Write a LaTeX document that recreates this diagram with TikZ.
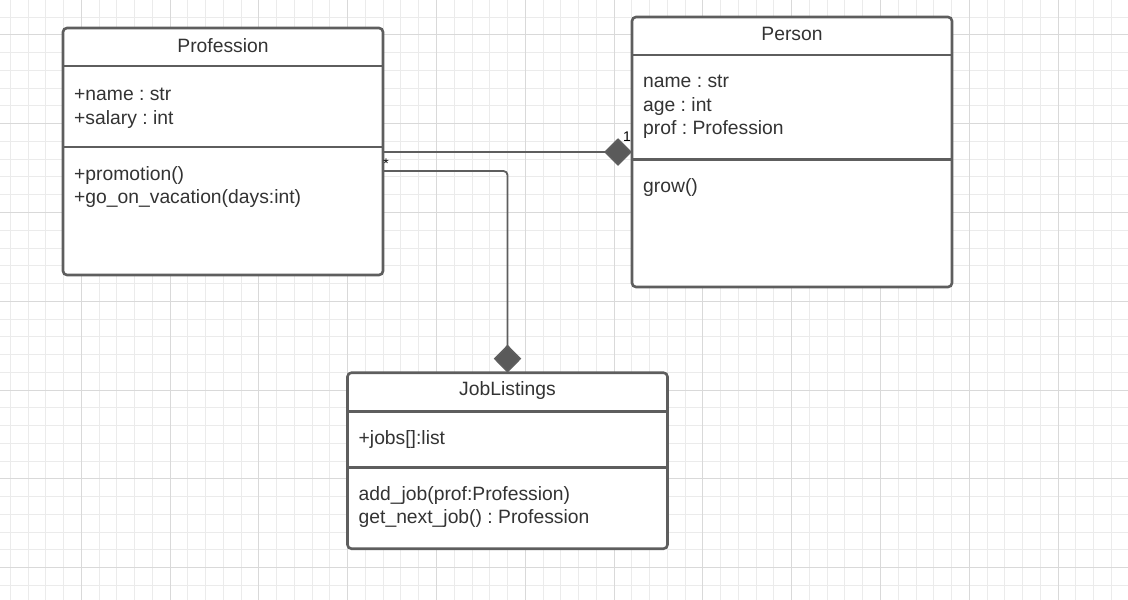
\documentclass[tikz,border=0pt]{standalone}
\usepackage{fontspec}
\setmainfont{Liberation Sans}
\usetikzlibrary{arrows.meta,positioning}
\definecolor{GridMinor}{HTML}{EBEBEB}
\definecolor{GridMajor}{HTML}{D9D9D9}
\definecolor{UmlLine}{HTML}{5E5E5E}
\definecolor{UmlText}{HTML}{333333}
\definecolor{UmlDiamond}{HTML}{5A5A5A}
\frenchspacing

\begin{document}
\begin{tikzpicture}[
  x=1pt, y=-1pt,
  classbox/.style={draw=UmlLine, fill=white, line width=2.6pt, rounded corners=4pt, outer sep=0pt, minimum width=320pt},
  sepline/.style={draw=UmlLine, line width=2.6pt},
  title/.style={anchor=base, inner sep=0pt, text=UmlText, font=\fontsize{19.3}{23.5}\selectfont},
  member/.style={anchor=base west, inner sep=0pt, align=left, text=UmlText, font=\fontsize{19.3}{23.5}\selectfont},
  mult/.style={inner sep=0pt, text=black, font=\fontsize{14}{16}\selectfont},
  comp/.style={draw=UmlLine, line width=1.8pt, rounded corners=4pt, -{Diamond[length=28pt,width=27.5pt,fill=UmlDiamond]}}
]
\useasboundingbox (0,0) rectangle (1128,600);

% background grid
\begin{scope}
  \clip (0,0) rectangle (1128,600);
  \fill[white] (0,0) rectangle (1128,600);
  \foreach \k in {0,...,64}
    \draw[GridMinor, line width=1pt] (-7.5+\k*17.76,0) -- (-7.5+\k*17.76,600);
  \foreach \k in {0,...,37}
    \draw[GridMinor, line width=1pt] (0,-53.9+\k*17.76) -- (1128,-53.9+\k*17.76);
  \foreach \k in {0,...,13}
    \draw[GridMajor, line width=1pt] (-7.5+\k*88.8,0) -- (-7.5+\k*88.8,600);
  \foreach \k in {0,...,7}
    \draw[GridMajor, line width=1pt] (0,-53.9+\k*88.8) -- (1128,-53.9+\k*88.8);
\end{scope}

% classes
\node[classbox, minimum height=247pt] (prof) at (223,151.5) {};
\node[classbox, minimum height=270pt] (person) at (792,152) {};
\node[classbox, minimum height=176pt] (jobs) at (507.5,460.7) {};

\draw[sepline] ([yshift=-38pt]prof.north west) -- ([yshift=-38pt]prof.north east);
\draw[sepline] ([yshift=-119pt]prof.north west) -- ([yshift=-119pt]prof.north east);
\draw[sepline] ([yshift=-38pt]person.north west) -- ([yshift=-38pt]person.north east);
\draw[sepline] ([yshift=-142.5pt]person.north west) -- ([yshift=-142.5pt]person.north east);
\draw[sepline] ([yshift=-38.6pt]jobs.north west) -- ([yshift=-38.6pt]jobs.north east);
\draw[sepline] ([yshift=-95pt]jobs.north west) -- ([yshift=-95pt]jobs.north east);

% base anchor sits on the last line
\node[title] (profTitle) at ([yshift=-24.3pt]prof.north) {Profession};
\node[member] (profAttr) at ([xshift=11pt,yshift=-96.2pt]prof.north west) {+name : str\\+salary : int};
\node[member] (profOps) at ([xshift=11pt,yshift=-175.5pt]prof.north west) {+promotion()\\+go\_on\_vacation(days:int)};

\node[title] (personTitle) at ([yshift=-23.7pt]person.north) {Person};
\node[member] (personAttr) at ([xshift=11pt,yshift=-117.7pt]person.north west) {name : str\\age : int\\prof : Profession};
\node[member] (personOps) at ([xshift=11pt,yshift=-175.7pt]person.north west) {grow()};

\node[title] (jobsTitle) at ([yshift=-23pt]jobs.north) {JobListings};
\node[member] (jobsAttr) at ([xshift=11pt,yshift=-71.3pt]jobs.north west) {+jobs[]:list};
\node[member] (jobsOps) at ([xshift=11pt,yshift=-150.8pt]jobs.north west) {add\_job(prof:Profession)\\get\_next\_job() : Profession};

% compositions
\draw[comp] (prof.east |- person.west) -- (person.west);
\draw[comp] ([yshift=-19.5pt]prof.east) -| (jobs.north);
\node[mult] (multOne) at ([xshift=-5pt,yshift=15.5pt]person.west) {1};
\node[mult] (multMany) at ([xshift=3pt,yshift=-12.5pt]prof.east) {*};
\end{tikzpicture}
\end{document}
